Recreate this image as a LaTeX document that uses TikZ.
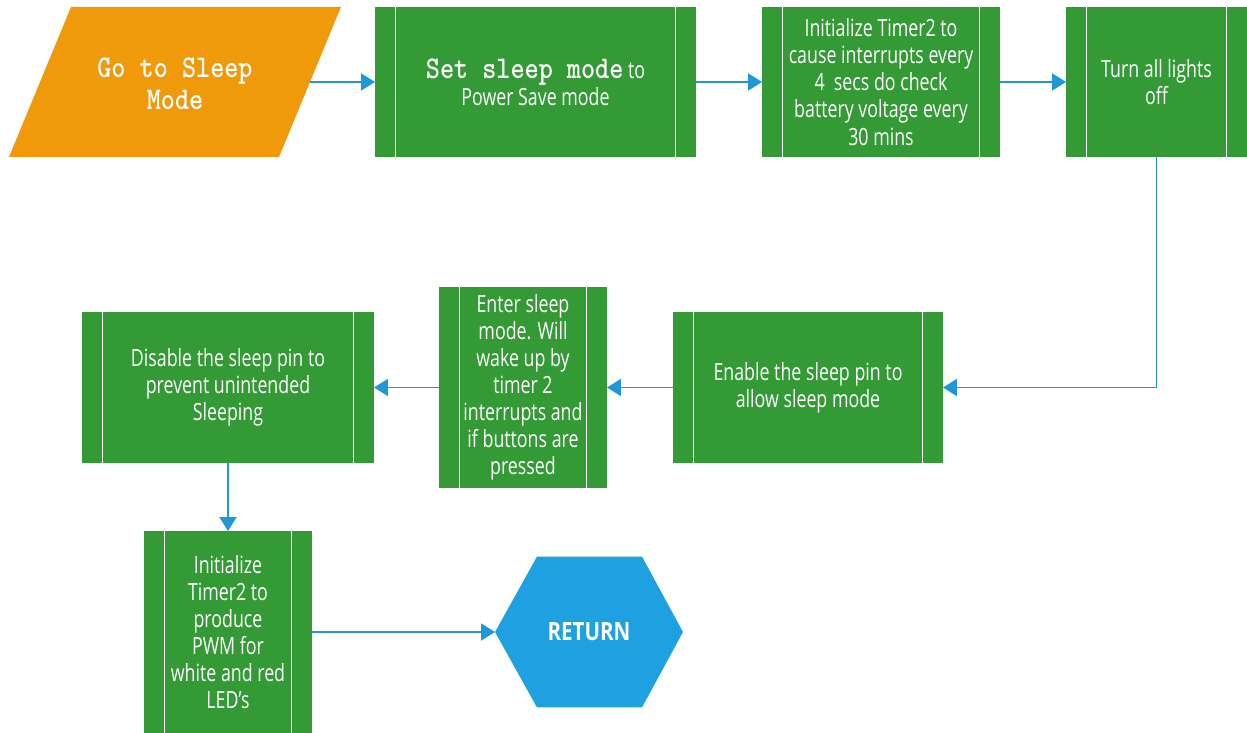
\documentclass[tikz,border=0pt]{standalone}
\usepackage{fontspec}
\usetikzlibrary{arrows.meta}
\newfontfamily\boxfont[FakeStretch=0.75]{Open Sans}
\newfontfamily\retfont[FakeStretch=0.82]{Open Sans}
\newfontfamily\codefont[FakeStretch=0.85]{Latin Modern Mono Light}
\definecolor{procgreen}{RGB}{52,154,54}
\definecolor{iogold}{RGB}{240,153,10}
\definecolor{endblue}{RGB}{30,160,225}
\definecolor{linkblue}{RGB}{30,152,215}
\tikzset{
  proc/.style={rectangle, fill=procgreen, text=white, inner sep=0pt, outer sep=0pt,
    align=center, font=\boxfont\fontsize{13.5}{15.4}\selectfont,
    path picture={
      \draw[white, line width=0.8pt]
        ([xshift=0.41cm]path picture bounding box.north west) --
        ([xshift=0.41cm]path picture bounding box.south west);
      \draw[white, line width=0.8pt]
        ([xshift=-0.41cm]path picture bounding box.north east) --
        ([xshift=-0.41cm]path picture bounding box.south east);
    }},
  conn/.style={draw=linkblue, line width=1.1pt,
    -{Triangle[length=0.28cm,width=0.34cm]}},
  codetext/.style={text=white, align=center, inner sep=0pt,
    font=\codefont\bfseries\fontsize{18}{18.2}\selectfont},
}
\begin{document}
\begin{tikzpicture}[x=0.02cm, y=-0.02cm]
\useasboundingbox (0,0) rectangle (1247,733);

% input/output parallelogram
\fill[iogold] (71,7) -- (341,7) -- (279,157) -- (9,157) -- cycle;
\node[codetext] (go) at (175,84) {Go to Sleep\\Mode};
\coordinate (goout) at (310,82);

% process steps
\node[proc, minimum width=6.42cm, minimum height=3.0cm] (set) at (535.5,82)
  {{\codefont\bfseries\fontsize{18}{15.4}\selectfont Set sleep mode} to\\Power Save mode};
\node[proc, minimum width=4.76cm, minimum height=3.0cm] (timer) at (881,82)
  {Initialize Timer2 to\\cause interrupts every\\4~ secs do check\\battery voltage every\\30 mins};
\node[proc, minimum width=3.62cm, minimum height=3.0cm] (lights) at (1156.5,82)
  {Turn all lights\\off};
\node[proc, minimum width=5.40cm, minimum height=3.02cm] (enable) at (808,387.5)
  {Enable the sleep pin to\\allow sleep mode};
\node[proc, minimum width=3.36cm, minimum height=4.02cm] (enter) at (523,387.5)
  {Enter sleep\\mode. Will\\wake up by\\timer 2\\interrupts and\\if buttons are\\pressed};
\node[proc, minimum width=5.84cm, minimum height=3.02cm] (disable) at (228,387.5)
  {Disable the sleep pin to\\prevent unintended\\Sleeping};
\node[proc, minimum width=3.36cm, minimum height=4.04cm] (init) at (228,632)
  {Initialize\\Timer2 to\\produce\\PWM for\\white and red\\LED’s};

% terminal hexagon
\node[rectangle, inner sep=0pt, outer sep=0pt, minimum width=3.76cm,
  minimum height=3.02cm] (ret) at (589,632) {};
\fill[endblue] (ret.west) -- ([xshift=0.84cm]ret.north west) --
  ([xshift=-0.82cm]ret.north east) -- (ret.east) --
  ([xshift=-0.82cm]ret.south east) -- ([xshift=0.84cm]ret.south west) -- cycle;
\node[text=white, font=\retfont\bfseries\fontsize{14.3}{16}\selectfont] at (ret) {RETURN};

% connectors
\draw[conn] (goout) -- (set.west);
\draw[conn] (set) -- (timer);
\draw[conn] (timer) -- (lights);
\draw[conn] (lights.south) |- (enable.east);
\draw[conn] (enable) -- (enter);
\draw[conn] (enter) -- (disable);
\draw[conn] (disable) -- (init);
\draw[conn] (init) -- (ret);
\end{tikzpicture}
\end{document}
